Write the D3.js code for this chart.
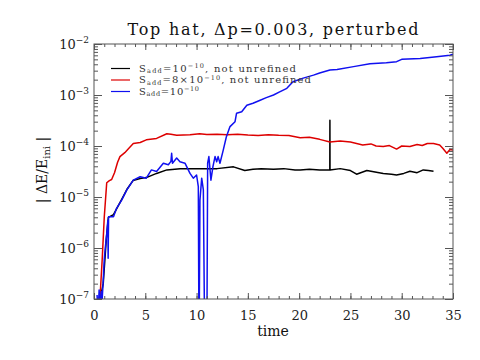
<!DOCTYPE html>
<html><head><meta charset="utf-8">
<script src="https://cdn.jsdelivr.net/npm/d3@7"></script>
<style>body{margin:0;background:#fff}svg{display:block}</style>
</head><body><svg id="c" width="480" height="360"></svg>
<script>
// ---- data ----
const blackT = [0.5,0.9,1.2,1.4,1.9,2.7,3.2,3.8,4.5,5.1,6.1,7.1,8.4,10.3,12.0,13.6,14.7,15.5,16.3,17.5,18.5,19.6,20.1,21.0,22.0,22.99,23.0,23.01,24.0,25.0,25.6,26.6,27.4,28.2,29.0,29.5,30.2,30.8,31.5,32.1,32.6,33.1];
const blackV = [8e-8,2e-7,1.5e-6,4e-6,4.5e-6,9e-6,1.4e-5,2.1e-5,2.3e-5,2.4e-5,2.9e-5,3.4e-5,3.6e-5,3.6e-5,3.6e-5,3.9e-5,3.3e-5,3.5e-5,3.6e-5,3.5e-5,3.6e-5,3.4e-5,3.4e-5,3.5e-5,3.4e-5,3.4e-5,3.2e-4,3.4e-5,3.6e-5,3.3e-5,2.8e-5,3.3e-5,3.1e-5,2.9e-5,2.8e-5,2.7e-5,2.9e-5,3.2e-5,3.0e-5,3.4e-5,3.3e-5,3.2e-5];
const redT = [0.3,0.6,0.8,1.0,1.24,1.5,1.72,2.0,2.3,2.53,3.0,3.4,3.83,4.5,5.1,6.1,7.1,7.5,8.06,9.36,10.3,11,12,13,14,15,16,17,18,19,20.1,21,22,23,24,25,26.2,27,27.5,28.2,28.8,29.5,30,30.8,31.5,32,32.5,33.1,33.7,34.0,34.4,34.7,35];
const redV = [5e-8,1.2e-7,6e-7,4e-6,1.9e-5,2.1e-5,2.2e-5,3e-5,4.8e-5,6.2e-5,7.4e-5,9e-5,1.12e-4,1.17e-4,1.32e-4,1.41e-4,1.74e-4,1.7e-4,1.62e-4,1.66e-4,1.74e-4,1.68e-4,1.7e-4,1.66e-4,1.7e-4,1.64e-4,1.6e-4,1.66e-4,1.62e-4,1.6e-4,1.45e-4,1.48e-4,1.35e-4,1.2e-4,1.25e-4,1.2e-4,1.05e-4,1.1e-4,1.0e-4,9.8e-5,1.02e-4,8.7e-5,1.0e-4,9.8e-5,1.07e-4,1.02e-4,1.12e-4,1.12e-4,1.05e-4,9e-5,7.2e-5,8.5e-5,8.3e-5];
const blueT = [0.3,0.4,0.5,0.6,0.7,0.8,0.9,1.0,1.1,1.24,1.35,1.38,1.42,1.56,1.9,2.2,2.7,3.2,3.83,4.5,5.1,5.6,6.1,6.76,7.25,7.5,7.57,7.65,8.06,8.38,8.87,9.36,9.68,10.0,10.17,10.24,10.33,10.5,10.66,10.8,11.0,11.08,11.2,11.4,11.6,11.8,11.96,12.1,12.28,12.6,12.9,13.26,13.75,13.9,14.4,14.9,15.5,16.2,16.8,17.5,18.1,18.8,19.4,20.4,21.4,22.0,23.0,23.7,25.3,26.9,28.5,29.5,30.0,31.8,33.4,34.7,35];
const blueV = [1.2e-7,5e-8,1.5e-7,6e-8,1.4e-7,1e-7,2.3e-7,6e-7,1e-6,1.9e-6,3.5e-6,6.3e-7,4.1e-6,4.1e-6,4.1e-6,6e-6,8.7e-6,1.38e-5,2.14e-5,2.5e-5,2.34e-5,3.4e-5,3.16e-5,4.6e-5,4.3e-5,5e-5,7.2e-5,4.6e-5,5.8e-5,4.9e-5,4.6e-5,2.9e-5,2.34e-5,2.7e-5,1.6e-5,1e-8,8.7e-6,2.34e-5,1.38e-5,1e-8,1e-8,4.6e-5,6.2e-5,2.14e-5,4e-5,6.2e-5,4.9e-5,6.2e-5,4.6e-5,8.3e-5,1.5e-4,2.4e-4,3.0e-4,4.4e-4,4.7e-4,6.3e-4,6.9e-4,7.9e-4,8.9e-4,1.0e-3,1.15e-3,1.35e-3,1.82e-3,2.14e-3,2.45e-3,2.7e-3,3.1e-3,3.16e-3,3.6e-3,4.1e-3,4.3e-3,4.5e-3,5.0e-3,5.2e-3,5.6e-3,6.0e-3,6.3e-3];
const xTicks = [0,5,10,15,20,25,30,35];
const yExps = [-2,-3,-4,-5,-6,-7];
const legendLabels = [["S","add","=10","−10",", not unrefined"],["S","add","=8×10","−10",", not unrefined"],["S","add","=10","−10",""]];
const colors = ["#000000","#dd0000","#1010f0"];

// ---- chart ----
const svg = d3.select("#c");
const L=94,R=453,T=44,B=299;
const x = d3.scaleLinear().domain([0,35]).range([L,R]);
const y = d3.scaleLog().domain([1e-7,1e-2]).range([B,T]);
const font = "DejaVu Serif";
const axc = "#555";

svg.append("clipPath").attr("id","clp").append("rect").attr("x",L).attr("y",T).attr("width",R-L).attr("height",B-T);

const series = [[blackT,blackV],[redT,redV],[blueT,blueV]];
const line = d3.line().x(d=>x(d[0])).y(d=>y(Math.max(d[1],1e-9)));
const g = svg.append("g").attr("clip-path","url(#clp)");
series.forEach((s,i)=>{
  const pts = s[0].map((t,j)=>[t,s[1][j]]);
  g.append("path").attr("d",line(pts)).attr("fill","none").attr("stroke",colors[i]).attr("stroke-width",1.5).attr("stroke-linejoin","round");
});

// frame
svg.append("rect").attr("x",L).attr("y",T).attr("width",R-L).attr("height",B-T).attr("fill","none").attr("stroke",axc).attr("stroke-width",1);

// axes with inward ticks
const xMinor = d3.range(0,36,1);
const yMinor = [];
for(let e=-7;e<-2;e++) for(let k=2;k<=9;k++) yMinor.push(k*Math.pow(10,e));
const bot = d3.axisBottom(x).tickValues(xTicks).tickSize(-6).tickFormat(d=>d).tickPadding(12);
const ga = svg.append("g").attr("transform",`translate(0,${B})`).call(bot);
ga.select(".domain").remove();
ga.selectAll("line").attr("stroke",axc);
ga.selectAll("text").attr("font-family",font).attr("font-size",13).attr("fill","#222");
svg.append("g").attr("transform",`translate(0,${B})`).call(d3.axisBottom(x).tickValues(xMinor).tickSize(-3).tickFormat(""))
  .call(s=>{s.select(".domain").remove();s.selectAll("line").attr("stroke",axc);});
svg.append("g").attr("transform",`translate(0,${T})`).call(d3.axisTop(x).tickValues(xTicks).tickSize(-6).tickFormat(""))
  .call(s=>{s.select(".domain").remove();s.selectAll("line").attr("stroke",axc);});
svg.append("g").attr("transform",`translate(0,${T})`).call(d3.axisTop(x).tickValues(xMinor).tickSize(-3).tickFormat(""))
  .call(s=>{s.select(".domain").remove();s.selectAll("line").attr("stroke",axc);});

const yMaj = yExps.map(e=>Math.pow(10,e));
svg.append("g").attr("transform",`translate(${L},0)`).call(d3.axisLeft(y).tickValues(yMaj).tickSize(-8).tickFormat(""))
  .call(s=>{s.select(".domain").remove();s.selectAll("line").attr("stroke",axc);});
svg.append("g").attr("transform",`translate(${L},0)`).call(d3.axisLeft(y).tickValues(yMinor).tickSize(-4).tickFormat(""))
  .call(s=>{s.select(".domain").remove();s.selectAll("line").attr("stroke",axc);});
svg.append("g").attr("transform",`translate(${R},0)`).call(d3.axisRight(y).tickValues(yMaj).tickSize(-8).tickFormat(""))
  .call(s=>{s.select(".domain").remove();s.selectAll("line").attr("stroke",axc);});
svg.append("g").attr("transform",`translate(${R},0)`).call(d3.axisRight(y).tickValues(yMinor).tickSize(-4).tickFormat(""))
  .call(s=>{s.select(".domain").remove();s.selectAll("line").attr("stroke",axc);});

// y tick labels 10^e
yExps.forEach(e=>{
  const t = svg.append("text").attr("x",89).attr("y",y(Math.pow(10,e))+5).attr("text-anchor","end")
    .attr("font-family",font).attr("font-size",13).attr("fill","#222");
  t.append("tspan").text("10");
  t.append("tspan").attr("dy",-6).attr("font-size",9).text("−"+(-e));
});

// titles
svg.append("text").attr("x",273).attr("y",35).attr("text-anchor","middle").attr("font-family",font).attr("font-size",16)
  .attr("textLength",291).attr("lengthAdjust","spacing").attr("fill","#111").text("Top hat, Δp=0.003, perturbed");
svg.append("text").attr("x",273).attr("y",336).attr("text-anchor","middle").attr("font-family",font).attr("font-size",14).attr("fill","#111").text("time");
const yl = svg.append("text").attr("transform","translate(47,170) rotate(-90)").attr("text-anchor","middle")
  .attr("font-family",font).attr("font-size",14).attr("fill","#111");
yl.append("tspan").text("| ΔE/E");
yl.append("tspan").attr("dy",3).attr("font-size",10).text("ini");
yl.append("tspan").attr("dy",-3).text(" |");

// legend
const ly=[68.5,80,91.5];
const lw=[157,172,60];
legendLabels.forEach((lab,i)=>{
  svg.append("line").attr("x1",111).attr("x2",130).attr("y1",ly[i]).attr("y2",ly[i]).attr("stroke",colors[i]).attr("stroke-width",1.2);
  const t = svg.append("text").attr("x",139).attr("y",ly[i]+3).attr("font-family",font).attr("font-size",10).attr("fill","#333")
    .attr("textLength",lw[i]).attr("lengthAdjust","spacing");
  t.append("tspan").text(lab[0]);
  t.append("tspan").attr("dy",1.5).attr("font-size",6.5).text(lab[1]);
  t.append("tspan").attr("dy",-1.5).text(lab[2]);
  t.append("tspan").attr("dy",-3.5).attr("font-size",6.5).text(lab[3]);
  t.append("tspan").attr("dy",3.5).text(lab[4]);
});
</script></body></html>
